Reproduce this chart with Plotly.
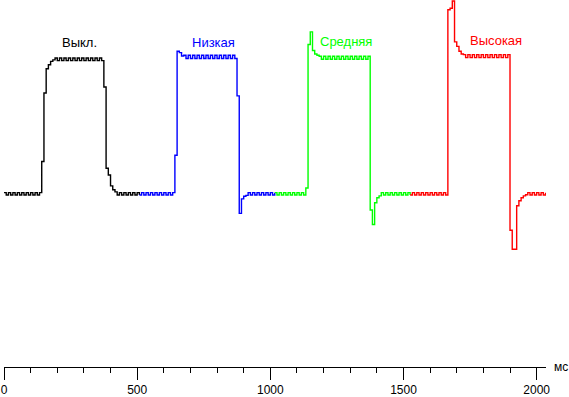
import plotly.graph_objects as go

# ---- data (brightness, % of "off" level; time in ms) ----
SAMPLE_MS = 8.333
segment_start_ms = [0.0, 508.3, 1016.6, 1524.9]
segment_names = ["Выкл.", "Низкая", "Средняя", "Высокая"]
segment_colors = ["#000000", "#0000FF", "#00FF00", "#FF0000"]

off_values = [
    0.9, -0.9, 0.9, -0.9, 0.9, -0.9, 0.9, -0.9, 0.9, -0.9, 0.9, -0.9, 0.9, -0.9, 0.9, -0.9, 0.9,
    24, 75, 93, 96, 98.5, 99.6,
    101, 99, 101, 99, 101, 99, 101, 99, 101, 99, 101, 99, 101, 99, 101, 99, 101, 99, 101, 99, 101, 99,
    79.4, 19, 14, 5.9, 3, 1.5,
    -0.9, 0.9, -0.9, 0.9, -0.9, 0.9, -0.9, 0.9, -0.9, 0.9, -0.9,
]
low_values = [
    -0.9, 0.9, -0.9, 0.9, -0.9, 0.9, -0.9, 0.9, -0.9, 0.9, -0.9, 0.9, -0.9, 0.9, -0.9, 0.9,
    28.7, 106, 105, 102.5,
    103, 100.6, 103, 100.6, 103, 100.6, 103, 100.6, 103, 100.6, 103, 100.6,
    103, 100.6, 103, 100.6, 103, 100.6, 103, 100.6, 103, 100.6, 103, 100.6,
    72.8, -14.5, -3.7, -1.8, -1.1,
    0.9, -0.9, 0.9, -0.9, 0.9, -0.9, 0.9, -0.9, 0.9, -0.9, 0.9, -0.9, 0.9,
]
mid_values = [
    0.9, -0.9, 0.9, -0.9, 0.9, -0.9, 0.9, -0.9, 0.9, -0.9, 0.9, -0.9, 0.9, -0.9,
    4.4, 111, 120.4, 106.6, 104, 103,
    102.3, 100.1, 102.3, 100.1, 102.3, 100.1, 102.3, 100.1, 102.3, 100.1, 102.3, 100.1,
    102.3, 100.1, 102.3, 100.1, 102.3, 100.1, 102.3, 100.1, 102.3, 100.1, 102.3,
    -12, -22.8, -6.6, -2.9, -1.5,
    0.9, -0.9, 0.9, -0.9, 0.9, -0.9, 0.9, -0.9, 0.9, -0.9, 0.9, -0.9, 0.9, -0.9,
]
high_values = [
    -0.9, 0.9, -0.9, 0.9, -0.9, 0.9, -0.9, 0.9, -0.9, 0.9, -0.9, 0.9, -0.9, 0.9, -0.9, 0.9, -0.9,
    136.8, 138, 143.4, 113, 109.6, 106, 104,
    103.5, 101.3, 103.5, 101.3, 103.5, 101.3, 103.5, 101.3, 103.5, 101.3, 103.5,
    101.3, 103.5, 101.3, 103.5, 101.3, 103.5, 101.3, 103.5, 101.3, 103.5,
    -27, -41.2, -41.2, -8.8, -5.1, -2.9, -1.5, -0.7,
    0.9, -0.9, 0.9, -0.9, 0.9, -0.9, 0.9, -0.9, 0.9,
]
series_values = [off_values, low_values, mid_values, high_values]

x_tick_values = [0, 500, 1000, 1500, 2000]
x_tick_labels = ["0", "500", "1000", "1500", "2000"]
x_unit = "мс"

# ---- figure ----
W, H = 569, 397
ML, MR, MT, MB = 4, 23, 0, 26
X_RANGE = [0, 2035]
Y_RANGE = [-128.7, 144.1]
FONT = "Liberation Sans, Arial, sans-serif"

fig = go.Figure()
for start, vals, color, name in zip(segment_start_ms, series_values, segment_colors, segment_names):
    t = [start + i * SAMPLE_MS for i in range(len(vals))]
    fig.add_trace(go.Scatter(
        x=t, y=vals, mode="lines", name=name,
        line=dict(color=color, width=1.4, shape="hv"),
        hoverinfo="skip", showlegend=False,
    ))

# segment labels (pixel-placed in paper coords)
plot_w = W - ML - MR
plot_h = H - MT - MB
label_px = [(79.3, 43.0), (213.0, 42.5), (346.2, 41.5), (496.2, 41.0)]
for (px, py), name, color in zip(label_px, segment_names, segment_colors):
    fig.add_annotation(
        x=(px - ML) / plot_w, y=(H - MB - py) / plot_h, xref="paper", yref="paper",
        text=name, showarrow=False, xanchor="center", yanchor="middle",
        font=dict(family=FONT, size=13, color=color),
    )

fig.add_annotation(
    x=(561 - ML) / plot_w, y=0, xref="paper", yref="paper",
    text=x_unit, showarrow=False, xanchor="center", yanchor="middle",
    font=dict(family=FONT, size=12, color="#000000"),
)

fig.update_layout(
    width=W, height=H, autosize=False,
    margin=dict(l=ML, r=MR, t=MT, b=MB, pad=0),
    paper_bgcolor="white", plot_bgcolor="white",
    xaxis=dict(
        range=X_RANGE, showgrid=False, zeroline=False,
        showline=True, linecolor="black", linewidth=1,
        ticks="outside", ticklen=12, tickwidth=1, tickcolor="black",
        tickvals=x_tick_values, ticktext=x_tick_labels,
        tickfont=dict(family=FONT, size=12, color="black"),
        minor=dict(dtick=100, tick0=0, ticks="outside", ticklen=5, tickwidth=1,
                   tickcolor="black", showgrid=False),
        fixedrange=True,
    ),
    yaxis=dict(range=Y_RANGE, visible=False, fixedrange=True),
)

fig.write_html(
    "out.html",
    config={"displayModeBar": False},
    post_script="document.body.style.margin='0';document.body.style.overflow='hidden';",
)
